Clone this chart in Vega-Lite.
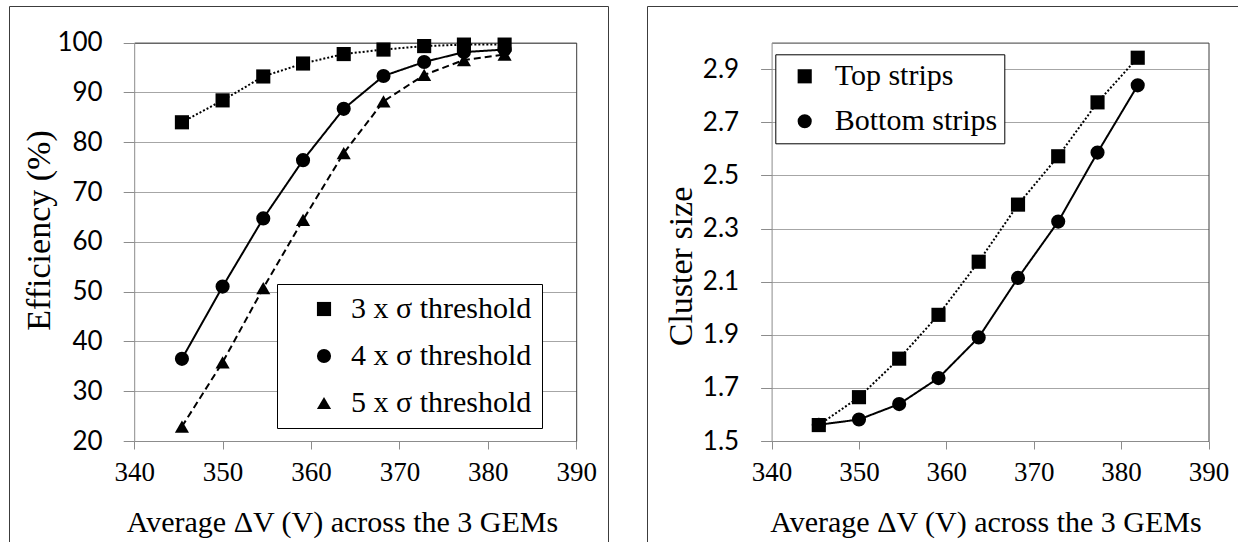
{
  "$schema": "https://vega.github.io/schema/vega-lite/v6.json",
  "autosize": {"type": "pad"},
  "padding": {"left": 8, "top": 5, "right": 0, "bottom": 0},
  "background": "white",
  "spacing": 37,
  "resolve": {
    "scale": {"shape": "independent", "strokeDash": "independent"},
    "legend": {"shape": "independent", "strokeDash": "independent"}
  },
  "config": {
    "font": "Liberation Serif",
    "view": {"stroke": "#3c3c3c", "strokeWidth": 1},
    "axis": {
      "labelColor": "black",
      "titleColor": "black",
      "titleFontWeight": "normal",
      "domainWidth": 1,
      "tickWidth": 1,
      "labelFlush": false,
      "labelOverlap": false
    }
  },
  "datasets": {
    "eff": [
      {"v": 345.4, "series": "3 x σ threshold", "eff": 84.0},
      {"v": 350.0, "series": "3 x σ threshold", "eff": 88.4},
      {"v": 354.6, "series": "3 x σ threshold", "eff": 93.2},
      {"v": 359.1, "series": "3 x σ threshold", "eff": 95.8},
      {"v": 363.7, "series": "3 x σ threshold", "eff": 97.7},
      {"v": 368.2, "series": "3 x σ threshold", "eff": 98.6},
      {"v": 372.8, "series": "3 x σ threshold", "eff": 99.3},
      {"v": 377.3, "series": "3 x σ threshold", "eff": 99.6},
      {"v": 381.9, "series": "3 x σ threshold", "eff": 99.6},
      {"v": 345.4, "series": "4 x σ threshold", "eff": 36.5},
      {"v": 350.0, "series": "4 x σ threshold", "eff": 51.0},
      {"v": 354.6, "series": "4 x σ threshold", "eff": 64.7},
      {"v": 359.1, "series": "4 x σ threshold", "eff": 76.4},
      {"v": 363.7, "series": "4 x σ threshold", "eff": 86.7},
      {"v": 368.2, "series": "4 x σ threshold", "eff": 93.3},
      {"v": 372.8, "series": "4 x σ threshold", "eff": 96.1},
      {"v": 377.3, "series": "4 x σ threshold", "eff": 98.1},
      {"v": 381.9, "series": "4 x σ threshold", "eff": 98.6},
      {"v": 345.4, "series": "5 x σ threshold", "eff": 22.9},
      {"v": 350.0, "series": "5 x σ threshold", "eff": 35.8},
      {"v": 354.6, "series": "5 x σ threshold", "eff": 50.7},
      {"v": 359.1, "series": "5 x σ threshold", "eff": 64.4},
      {"v": 363.7, "series": "5 x σ threshold", "eff": 77.8},
      {"v": 368.2, "series": "5 x σ threshold", "eff": 88.2},
      {"v": 372.8, "series": "5 x σ threshold", "eff": 93.5},
      {"v": 377.3, "series": "5 x σ threshold", "eff": 96.5},
      {"v": 381.9, "series": "5 x σ threshold", "eff": 97.6}
    ],
    "cs": [
      {"v": 345.4, "series": "Top strips", "cs": 1.56},
      {"v": 350.0, "series": "Top strips", "cs": 1.665},
      {"v": 354.6, "series": "Top strips", "cs": 1.81},
      {"v": 359.1, "series": "Top strips", "cs": 1.975},
      {"v": 363.7, "series": "Top strips", "cs": 2.175},
      {"v": 368.2, "series": "Top strips", "cs": 2.39},
      {"v": 372.8, "series": "Top strips", "cs": 2.572},
      {"v": 377.3, "series": "Top strips", "cs": 2.775},
      {"v": 381.9, "series": "Top strips", "cs": 2.943},
      {"v": 345.4, "series": "Bottom strips", "cs": 1.561},
      {"v": 350.0, "series": "Bottom strips", "cs": 1.581},
      {"v": 354.6, "series": "Bottom strips", "cs": 1.639},
      {"v": 359.1, "series": "Bottom strips", "cs": 1.737},
      {"v": 363.7, "series": "Bottom strips", "cs": 1.89},
      {"v": 368.2, "series": "Bottom strips", "cs": 2.114},
      {"v": 372.8, "series": "Bottom strips", "cs": 2.326},
      {"v": 377.3, "series": "Bottom strips", "cs": 2.586},
      {"v": 381.9, "series": "Bottom strips", "cs": 2.839}
    ]
  },
  "hconcat": [
    {
      "width": 599,
      "height": 536,
      "data": {"name": "eff"},
      "layer": [
        {
          "mark": {"type": "line", "color": "black", "strokeWidth": 2},
          "encoding": {
            "x": {
              "field": "v", "type": "quantitative",
              "scale": {"domain": [340, 390], "range": [125.2, 567.2], "nice": false, "zero": false},
              "axis": {"orient": "top", "offset": -36.6, "labels": false, "ticks": false, "grid": false, "title": null, "domainColor": "#3c3c3c"}
            },
            "y": {
              "field": "eff", "type": "quantitative",
              "scale": {"domain": [20, 100], "range": [435, 36.6], "nice": false, "zero": false},
              "axis": {"orient": "right", "offset": -31.8, "labels": false, "ticks": false, "grid": false, "title": null, "domainColor": "#3c3c3c"}
            },
            "strokeDash": {
              "field": "series", "type": "nominal",
              "scale": {"range": [[2, 2], [1, 0], [7, 4]]},
              "legend": null
            }
          }
        },
        {
          "mark": {"type": "point", "filled": true, "color": "black", "opacity": 1, "size": 200},
          "encoding": {
            "x": {
              "field": "v", "type": "quantitative",
              "axis": {
                "orient": "bottom", "offset": -101, "values": [340, 350, 360, 370, 380, 390], "grid": false,
                "domainColor": "#8c8c8c", "tickColor": "#8c8c8c", "tickSize": 8,
                "labelFont": "Liberation Serif", "labelFontSize": 27, "labelPadding": 10,
                "title": "Average ΔV (V) across the 3 GEMs", "titleFont": "Liberation Serif", "titleFontSize": 30,
                "titleX": 333, "titleY": 90, "titleAlign": "center", "titleBaseline": "alphabetic"
              }
            },
            "y": {
              "field": "eff", "type": "quantitative",
              "axis": {
                "orient": "left", "offset": -125.2, "values": [20, 30, 40, 50, 60, 70, 80, 90, 100],
                "grid": true, "gridColor": "#a6a6a6", "gridWidth": 1,
                "domainColor": "#8c8c8c", "tickColor": "#8c8c8c", "tickSize": 11,
                "labelFont": "Lato", "labelFontSize": 26, "labelPadding": 21,
                "title": "Efficiency (%)", "titleFont": "Liberation Serif", "titleFontSize": 34,
                "titleAngle": -90, "titleX": -85, "titleY": 224, "titleAlign": "center", "titleBaseline": "alphabetic"
              }
            },
            "shape": {
              "field": "series", "type": "nominal",
              "scale": {"domain": ["3 x σ threshold", "4 x σ threshold", "5 x σ threshold"], "range": ["square", "circle", "triangle-up"]},
              "legend": {
                "title": null,
                "orient": "none",
                "legendX": 268, "legendY": 278,
                "direction": "vertical",
                "strokeColor": "black", "fillColor": "white", "cornerRadius": 0,
                "labelFont": "Liberation Serif", "labelFontSize": 30, "labelColor": "black", "labelLimit": 0,
                "symbolSize": 200, "symbolFillColor": "black", "symbolStrokeColor": "black",
                "padding": 10, "rowPadding": 17,
                "symbolOffset": 22, "labelOffset": 12
              }
            }
          }
        }
      ],
      "resolve": {"axis": {"x": "independent", "y": "independent"}}
    },
    {
      "width": 593,
      "height": 536,
      "data": {"name": "cs"},
      "layer": [
        {
          "mark": {"type": "line", "color": "black", "strokeWidth": 2},
          "encoding": {
            "x": {
              "field": "v", "type": "quantitative",
              "scale": {"domain": [340, 390], "range": [124.6, 561.5], "nice": false, "zero": false},
              "axis": {"orient": "top", "offset": -36.6, "labels": false, "ticks": false, "grid": false, "title": null, "domainColor": "#3c3c3c"}
            },
            "y": {
              "field": "cs", "type": "quantitative",
              "scale": {"domain": [1.5, 3.0], "range": [435, 36.6], "nice": false, "zero": false},
              "axis": {"orient": "right", "offset": -31.5, "labels": false, "ticks": false, "grid": false, "title": null, "domainColor": "#3c3c3c"}
            },
            "strokeDash": {
              "field": "series", "type": "nominal",
              "scale": {"range": [[1, 0], [2, 2]]},
              "legend": null
            }
          }
        },
        {
          "mark": {"type": "point", "filled": true, "color": "black", "opacity": 1, "size": 200},
          "encoding": {
            "x": {
              "field": "v", "type": "quantitative",
              "axis": {
                "orient": "bottom", "offset": -101, "values": [340, 350, 360, 370, 380, 390], "grid": false,
                "domainColor": "#8c8c8c", "tickColor": "#8c8c8c", "tickSize": 8,
                "labelFont": "Liberation Serif", "labelFontSize": 27, "labelPadding": 10,
                "title": "Average ΔV (V) across the 3 GEMs", "titleFont": "Liberation Serif", "titleFontSize": 30,
                "titleX": 338.5, "titleY": 90, "titleAlign": "center", "titleBaseline": "alphabetic"
              }
            },
            "y": {
              "field": "cs", "type": "quantitative",
              "axis": {
                "orient": "left", "offset": -124.6, "values": [1.5, 1.7, 1.9, 2.1, 2.3, 2.5, 2.7, 2.9], "format": ".1f",
                "grid": true, "gridColor": "#a6a6a6", "gridWidth": 1,
                "domainColor": "#8c8c8c", "tickColor": "#8c8c8c", "tickSize": 11,
                "labelFont": "Lato", "labelFontSize": 26, "labelPadding": 22,
                "title": "Cluster size", "titleFont": "Liberation Serif", "titleFontSize": 34,
                "titleAngle": -90, "titleX": -80.6, "titleY": 260, "titleAlign": "center", "titleBaseline": "alphabetic"
              }
            },
            "shape": {
              "field": "series", "type": "nominal",
              "scale": {"domain": ["Top strips", "Bottom strips"], "range": ["square", "circle"]},
              "legend": {
                "title": null,
                "orient": "none",
                "legendX": 128.3, "legendY": 48.3,
                "direction": "vertical",
                "strokeColor": "black", "fillColor": "white", "cornerRadius": 0,
                "labelFont": "Liberation Serif", "labelFontSize": 30, "labelColor": "black", "labelLimit": 0,
                "symbolSize": 200, "symbolFillColor": "black", "symbolStrokeColor": "black",
                "padding": 7, "rowPadding": 15,
                "symbolOffset": 7.4, "labelOffset": 15
              }
            }
          }
        }
      ],
      "resolve": {"axis": {"x": "independent", "y": "independent"}}
    }
  ]
}
